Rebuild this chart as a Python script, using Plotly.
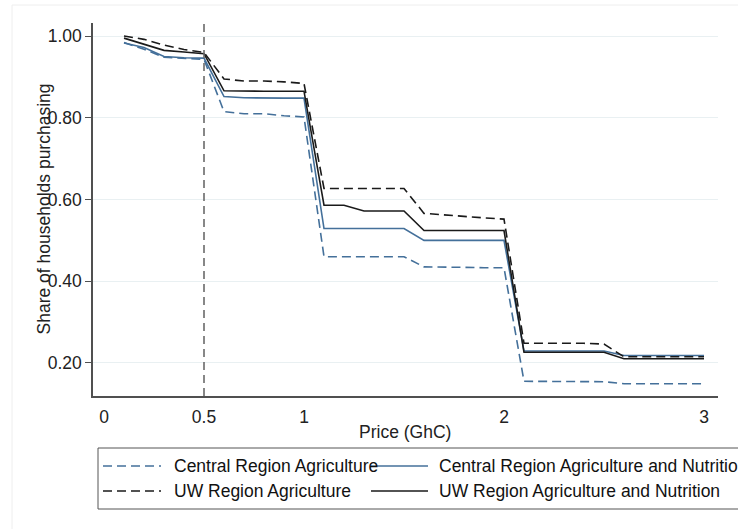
import plotly.graph_objects as go

# Price points (GhC) at which purchase shares were recorded
price = [0.1, 0.2, 0.3, 0.4, 0.5, 0.6, 0.7, 0.8, 0.9, 1.0,
         1.1, 1.2, 1.3, 1.4, 1.5, 1.6, 1.7, 1.8, 1.9, 2.0,
         2.1, 2.2, 2.3, 2.4, 2.5, 2.6, 2.7, 2.8, 2.9, 3.0]

# Share of households purchasing at each price, by region and arm
central_ag = [0.984, 0.968, 0.948, 0.945, 0.943, 0.815, 0.810, 0.810, 0.805, 0.802,
              0.460, 0.460, 0.460, 0.460, 0.460, 0.435, 0.435, 0.434, 0.433, 0.433,
              0.155, 0.155, 0.155, 0.155, 0.154, 0.149, 0.149, 0.149, 0.149, 0.149]
central_ag_nut = [0.983, 0.972, 0.950, 0.947, 0.946, 0.852, 0.849, 0.848, 0.848, 0.848,
                  0.529, 0.529, 0.529, 0.529, 0.529, 0.500, 0.500, 0.500, 0.500, 0.500,
                  0.229, 0.229, 0.229, 0.229, 0.229, 0.218, 0.218, 0.218, 0.218, 0.218]
uw_ag = [1.000, 0.992, 0.978, 0.967, 0.960, 0.895, 0.890, 0.890, 0.888, 0.884,
         0.627, 0.627, 0.627, 0.627, 0.627, 0.566, 0.562, 0.558, 0.555, 0.552,
         0.248, 0.248, 0.248, 0.248, 0.246, 0.215, 0.215, 0.215, 0.215, 0.215]
uw_ag_nut = [0.995, 0.980, 0.965, 0.961, 0.957, 0.866, 0.865, 0.865, 0.865, 0.865,
             0.586, 0.586, 0.572, 0.572, 0.572, 0.524, 0.524, 0.524, 0.524, 0.524,
             0.226, 0.226, 0.226, 0.226, 0.226, 0.210, 0.210, 0.210, 0.210, 0.210]

series_names = ["Central Region Agriculture", "Central Region Agriculture and Nutrition",
                "UW Region Agriculture", "UW Region Agriculture and Nutrition"]

x_tickvals = [0, 0.5, 1, 2, 3]
x_ticktext = ["0", "0.5", "1", "2", "3"]
y_tickvals = [0.2, 0.4, 0.6, 0.8, 1.0]
y_ticktext = ["0.20", "0.40", "0.60", "0.80", "1.00"]
reference_price = 0.5

BLUE = "#44709a"
BLACK = "#1a1a1a"
DASH = "9px,5px"
FONT = "Liberation Sans, Arial, sans-serif"

W, H = 738, 529
ML, MR, MT, MB = 93, 20, 23, 133
PW, PH = W - ML - MR, H - MT - MB


def px_x(px):
    return (px - ML) / PW


def px_y(py):
    return (H - MB - py) / PH


styles = [(BLUE, DASH), (BLUE, "solid"), (BLACK, DASH), (BLACK, "solid")]
values = [central_ag, central_ag_nut, uw_ag, uw_ag_nut]

fig = go.Figure()
for name, ys, (col, dash) in zip(series_names, values, styles):
    fig.add_trace(go.Scatter(x=price, y=ys, mode="lines", name=name, showlegend=False,
                             line=dict(color=col, width=1.6, dash=dash)))

shapes = [
    # faint outer graph-region frame
    dict(type="rect", xref="paper", yref="paper", x0=px_x(12), x1=px_x(760),
         y0=px_y(540), y1=px_y(5), line=dict(color="#eeeeee", width=1), layer="below"),
    # reference price line
    dict(type="line", xref="x", yref="paper", x0=reference_price, x1=reference_price,
         y0=0, y1=1, line=dict(color="#6a6a6a", width=1.6, dash="8px,5px")),
    # legend frame
    dict(type="rect", xref="paper", yref="paper", x0=px_x(98), x1=px_x(760),
         y0=px_y(509), y1=px_y(448), line=dict(color="#555555", width=1)),
]

annotations = [
    dict(text="Share of households purchasing", xref="paper", yref="paper",
         x=px_x(43), y=0.5, textangle=-90, showarrow=False,
         xanchor="center", yanchor="middle", font=dict(family=FONT, size=17.5, color="#222")),
    dict(text="Price (GhC)", xref="paper", yref="paper", x=px_x(405), y=px_y(432),
         showarrow=False, xanchor="center", yanchor="middle",
         font=dict(family=FONT, size=17.5, color="#222")),
]

# legend entries: two rows, two columns
rows_y = [466, 491]
col_sample = [(103, 161), (371, 428)]
col_text = [172, 437]
for i, (name, (col, dash)) in enumerate(zip(series_names, styles)):
    r, c = i // 2, i % 2
    yy = px_y(rows_y[r])
    shapes.append(dict(type="line", xref="paper", yref="paper",
                       x0=px_x(col_sample[c][0]), x1=px_x(col_sample[c][1]), y0=yy, y1=yy,
                       line=dict(color=col, width=1.6, dash=dash)))
    annotations.append(dict(text=name, xref="paper", yref="paper", x=px_x(col_text[c]), y=yy,
                            showarrow=False, xanchor="left", yanchor="middle",
                            font=dict(family=FONT, size=17.5, color="#111")))

fig.update_layout(
    width=W, height=H,
    margin=dict(l=ML, r=MR, t=MT, b=MB, pad=0),
    paper_bgcolor="white", plot_bgcolor="white",
    font=dict(family=FONT, size=17.5, color="#222"),
    shapes=shapes, annotations=annotations,
    xaxis=dict(range=[-0.055, 3.07], tickvals=x_tickvals, ticktext=x_ticktext,
               showgrid=False, zeroline=False, showline=True, linecolor="#505050", linewidth=1.5,
               ticks="outside", ticklen=4, tickcolor="rgba(0,0,0,0)",
               tickfont=dict(family=FONT, size=17.5, color="#222")),
    yaxis=dict(range=[0.119, 1.032], tickvals=y_tickvals, ticktext=y_ticktext,
               showgrid=True, gridcolor="#e9f0f2", gridwidth=1, zeroline=False,
               showline=True, linecolor="#505050", linewidth=1.5,
               ticks="outside", ticklen=6, tickcolor="#505050", tickwidth=1.2,
               tickfont=dict(family=FONT, size=17.5, color="#222")),
)

fig.write_html("out.html")
